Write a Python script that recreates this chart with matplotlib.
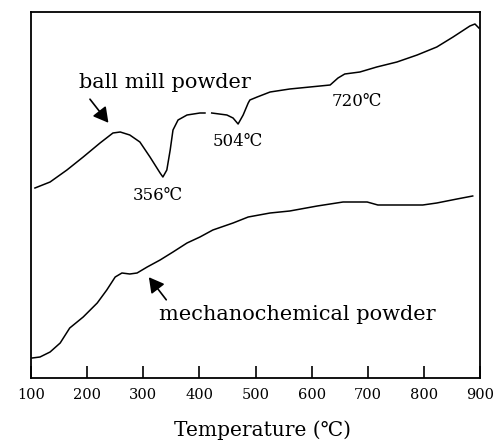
import numpy as np
import matplotlib.pyplot as plt

# temperature (C) and DTA signal (arbitrary units)
temp_ball = [107, 134, 164, 193, 223, 246, 259, 276, 294, 312, 330, 335, 342, 348,
             353, 362, 378, 401, 410, np.nan, 422, 449, 460, 469, 478, 487, 490,
             503, 526, 561, 597, 633, 647, 659, 686, 716, 752, 788, 823, 852,
             882, 891, 898]
sig_ball = [190, 196, 208, 221, 235, 245, 246, 243, 236, 221, 205, 201, 208, 228,
            248, 258, 263, 265, 265, np.nan, 265, 263, 260, 254, 263, 275, 278,
            281, 286, 289, 291, 293, 300, 304, 306, 311, 316, 323, 331, 341,
            352, 354, 350]

temp_mech = [102, 116, 134, 152, 169, 193, 218, 235, 250, 262, 276, 289, 307, 330,
             353, 378, 401, 424, 460, 487, 526, 561, 610, 656, 699, 718, 757,
             798, 823, 859, 887]
sig_mech = [20, 21, 26, 35, 50, 61, 75, 88, 101, 105, 104, 105, 111, 118,
            126, 135, 141, 148, 155, 161, 165, 167, 172, 176, 176, 173, 173,
            173, 175, 179, 182]

xticks = [100, 200, 300, 400, 500, 600, 700, 800, 900]

serif = ['DejaVu Serif', 'DejaVu Sans']
plt.rcParams['font.family'] = serif

fig = plt.figure(figsize=(5.01, 4.45), dpi=100)
ax = fig.add_axes([31 / 501, 67 / 445, 449 / 501, 366 / 445])

ax.plot(temp_ball, sig_ball, color='black', lw=1.1)
ax.plot(temp_mech, sig_mech, color='black', lw=1.1)

ax.set_xlim(100, 900)
ax.set_ylim(0, 366)
ax.set_xticks(xticks)
ax.set_xticklabels([str(t) for t in xticks], fontsize=10.5)
ax.set_yticks([])
ax.tick_params(axis='x', direction='in', length=9, width=1.2, pad=7)
for s in ax.spines.values():
    s.set_linewidth(1.3)

arrow = dict(arrowstyle='-|>,head_length=0.9,head_width=0.5', color='black', lw=1.2)
ax.annotate('', xy=(241, 253), xytext=(202, 281), arrowprops=arrow)
ax.annotate('', xy=(307, 103), xytext=(344, 76), arrowprops=arrow)

ax.text(339, 295, 'ball mill powder', fontsize=15, ha='center', va='center')
ax.text(574, 63, 'mechanochemical powder', fontsize=15, ha='center', va='center')
ax.text(326, 183, '356℃', fontsize=12, ha='center', va='center')
ax.text(469, 236, '504℃', fontsize=12, ha='center', va='center')
ax.text(681, 276, '720℃', fontsize=12, ha='center', va='center')

fig.text(262 / 501, 1 - 430 / 445, 'Temperature (℃)', fontsize=14.5,
         ha='center', va='center')

fig.savefig('out.png', dpi=100)
